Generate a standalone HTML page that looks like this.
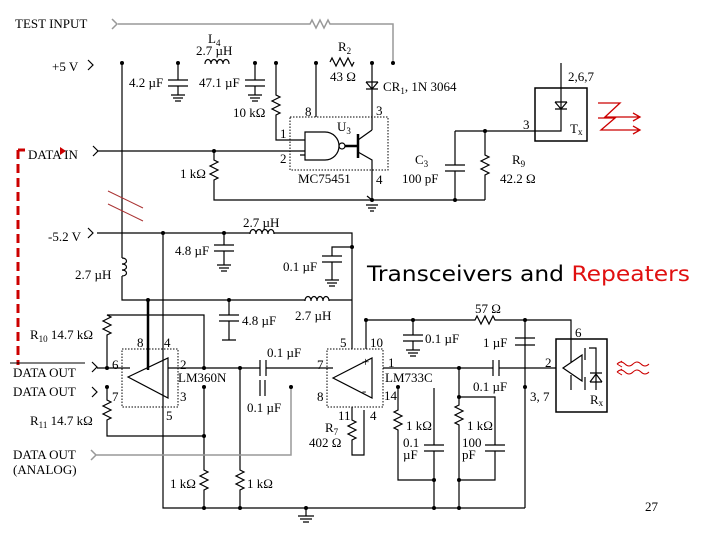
<!DOCTYPE html>
<html><head><meta charset="utf-8"><style>
html,body{margin:0;padding:0;background:#fff;}
svg{display:block;}
text{font-family:"Liberation Serif",serif;font-size:13px;fill:#000;}
.t{font-family:"DejaVu Sans","Liberation Sans",sans-serif;font-size:21px;}
</style></head><body>
<svg width="720" height="540" viewBox="0 0 720 540" xmlns="http://www.w3.org/2000/svg">
<g fill="none" stroke="#000" stroke-width="1.2">
<path d="M112,19 l5,5 l-5,5 M118,24 H310 l2,-4 l4,8 l4,-8 l4,8 l4,-8 l2,4 H393 V63" stroke="#999" stroke-width="1.5"/>
<path d="M88,60 l5,5 l-5,5"/>
<path d="M122,63 V258 M122,258 c6,0 6,6 0,6 c6,0 6,6 0,6 c6,0 6,6 0,6 M122,276 V300 H305"/>
<path d="M178,63 V80 M168,80 H188 M168,86 H188 M178,86 V95 M171,95 H185 M173,98 H183 M175,101 H181"/>
<path d="M255,63 V80 M245,80 H265 M245,86 H265 M255,86 V95 M248,95 H262 M250,98 H260 M252,101 H258"/>
<path d="M205,64 c0,-6 6,-6 6,0 c0,-6 6,-6 6,0 c0,-6 6,-6 6,0 c0,-6 6,-6 6,0"/>
<path d="M276,63 V95 l4,2 l-8,4 l8,4 l-8,4 l8,4 l-4,2 V140 H305"/>
<path d="M316,63 V117"/>
<path d="M330,62 l2,-4 l4,8 l4,-8 l4,8 l4,-8 l4,8 l2,-4"/>
<path d="M372,63 V130 M366,82 H378 M366,82 l6,7 l6,-7 M366,89 H378"/>
<rect x="290" y="117" width="98" height="53" stroke-dasharray="1.5,1.5" stroke-width="1"/>
<path d="M305,132 H325 a14,14 0 0 1 0,28 H305 Z"/>
<circle cx="342" cy="146" r="3"/>
<path d="M345,146 H358 M358,134 V158" stroke-width="2.5"/>
<path d="M358,140 L372,130 M358,152 L372,160 V200 M372,200 L367,196 M366,205 H378 M368,208 H376 M370,211 H374"/>
<path d="M93,146 l5,5 l-5,5 M97,151 H305 M305,155 H300"/>
<path d="M214,151 V160 l4,2 l-8,4 l8,4 l-8,4 l8,4 l-4,2 V200 H485"/>
<path d="M455,131 V165 M445,165 H465 M445,171 H465 M455,171 V200"/>
<path d="M485,131 V155 l4,2 l-8,4 l8,4 l-8,4 l8,4 l-4,2 V200"/>
<path d="M455,131 H561 V63"/>
<rect x="535" y="88" width="52" height="53" stroke-width="1.5"/>
<path d="M555,102 H567 M555,102 l6,7 l6,-7 M555,109 H567"/>
<path d="M88,228 l5,5 l-5,5 M97,233 H250 M250,234 c0,-6 6,-6 6,0 c0,-6 6,-6 6,0 c0,-6 6,-6 6,0 c0,-6 6,-6 6,0 M274,233 H352 V349"/>
<path d="M163,233 V508 H525"/>
<path d="M224,233 V245 M214,245 H234 M214,251 H234 M224,251 V265 M217,265 H231 M219,268 H229 M221,271 H227"/>
<path d="M352,247 H332 V256 M322,256 H342 M322,262 H342 M332,262 V280 M325,280 H339 M327,283 H337 M329,286 H335"/>
<path d="M305,301 c0,-6 6,-6 6,0 c0,-6 6,-6 6,0 c0,-6 6,-6 6,0 c0,-6 6,-6 6,0 M329,300 H352"/>
<path d="M229,300 V315 M219,315 H239 M219,321 H239 M229,321 V340 M222,340 H236"/>
<path d="M148,300 V370" stroke-width="2.5"/>
<path d="M107,368 V335 l4,-2 l-8,-4 l8,-4 l-8,-4 l8,-4 l-4,-2 V315 H204 V368"/>
<rect x="122" y="349" width="56" height="58" stroke-dasharray="1.5,1.5" stroke-width="1"/>
<path d="M128,377 L168,358 V398 Z"/>
<path d="M92,362 l5,5 l-5,5 M97,368 H130 M92,387 l5,5 l-5,5 M107,387 V400 l4,2 l-8,4 l8,4 l-8,4 l8,4 l-4,2 V436 H204"/>
<path d="M168,368 H260 M266,368 H333 M260,360 V376 M266,360 V376"/>
<path d="M260,380 V396 M265,380 V396"/>
<path d="M204,387 V470 l4,2 l-8,4 l8,4 l-8,4 l8,4 l-4,2 V508"/>
<path d="M240,368 V470 l4,2 l-8,4 l8,4 l-8,4 l8,4 l-4,2 V508"/>
<path d="M91,450 l5,5 l-5,5 M96,455 H291 V387" stroke="#999" stroke-width="1.5"/>
<path d="M306,508 V516 M298,516 H314 M300,519 H312 M303,522 H309"/>
<rect x="327" y="349" width="56" height="58" stroke-dasharray="1.5,1.5" stroke-width="1"/>
<path d="M333,378 L372,358 V398 Z"/>
<path d="M352,407 V420 l4,2 l-8,4 l8,4 l-8,4 l8,4 l-4,2 V455 H364 V410"/>
<path d="M366,349 V320 H475 l2,-4 l4,8 l4,-8 l4,8 l4,-8 l2,4 H571 V339"/>
<path d="M413,320 V335 M403,335 H423 M403,341 H423 M413,341 V350 M406,350 H420 M408,353 H418 M410,356 H416"/>
<path d="M525,320 V508 M515,338 H535 M515,345 H535"/>
<path d="M383,368 H493 M499,368 H556 M493,360 V376 M499,360 V376"/>
<path d="M398,387 V410 l-4,2 l8,4 l-8,4 l8,4 l-8,4 l4,2 V480 H434"/>
<path d="M434,388 V445 M424,445 H444 M424,451 H444 M434,451 V508"/>
<path d="M459,368 V405 l-4,2 l8,4 l-8,4 l8,4 l-8,4 l4,2 V480 H495 V451 M485,451 H505 M485,445 H505 M495,445 V397 H459 M459,480 V508"/>
<rect x="556" y="339" width="51" height="73" stroke-width="1.5"/>
<path d="M563,368 L582,355 V381 Z M571,339 V362 M571,375 V390 M585,348 V360 M585,377 V390 M589,348 H596 V390 M590,382 H602 M590,382 l6,-8 l6,8 M590,373 H602"/>
</g>
<g fill="#000">
<circle cx="122" cy="63" r="2"/><circle cx="178" cy="63" r="2"/><circle cx="255" cy="63" r="2"/><circle cx="276" cy="63" r="2"/><circle cx="316" cy="63" r="2"/><circle cx="372" cy="63" r="2"/><circle cx="393" cy="63" r="2"/>
<circle cx="214" cy="151" r="2"/><circle cx="372" cy="200" r="2"/><circle cx="455" cy="200" r="2"/><circle cx="485" cy="131" r="2"/>
<circle cx="163" cy="233" r="2"/><circle cx="224" cy="233" r="2"/><circle cx="352" cy="247" r="2"/>
<circle cx="148" cy="300" r="2"/><circle cx="229" cy="300" r="2"/><circle cx="107" cy="368" r="2"/><circle cx="204" cy="368" r="2"/><circle cx="240" cy="368" r="2"/>
<circle cx="107" cy="387" r="2"/><circle cx="204" cy="387" r="2"/><circle cx="204" cy="436" r="2"/><circle cx="291" cy="387" r="2"/>
<circle cx="204" cy="508" r="2"/><circle cx="240" cy="508" r="2"/><circle cx="306" cy="508" r="2"/><circle cx="434" cy="508" r="2"/><circle cx="459" cy="508" r="2"/>
<circle cx="366" cy="320" r="2"/><circle cx="413" cy="320" r="2"/><circle cx="525" cy="320" r="2"/><circle cx="525" cy="387" r="2"/>
<circle cx="459" cy="368" r="2"/><circle cx="459" cy="397" r="2"/><circle cx="398" cy="387" r="2"/><circle cx="434" cy="480" r="2"/><circle cx="459" cy="480" r="2"/>
</g>
<g stroke="#c00" fill="none">
<path d="M18,150 V365 M18,150 H25" stroke-width="3" stroke-dasharray="9,5"/>
<path d="M108,191 L143,208 M108,204 L143,221" stroke="#a33" stroke-width="1"/>
<path d="M598,103 H620 L605,117 H640 M598,118 H615 L601,130 H640 M633,113 L640,117 L633,121 M633,126 L640,130 L633,134" stroke-width="1.3"/>
<path d="M617,364 q4,-4 8,0 t8,0 t8,0 t8,0 M617,372 q4,-4 8,0 t8,0 t8,0 t8,0 M617,364 l5,-3 M617,364 l5,3 M617,372 l5,-3 M617,372 l5,3" stroke-width="1"/>
</g>
<polygon points="60,147 66,151 60,155" fill="#c00"/>
<text x="15" y="28">TEST INPUT</text>
<text x="52" y="71">+5 V</text>
<text x="208" y="43">L<tspan font-size="9" dy="3">4</tspan></text>
<text x="196" y="55">2.7 µH</text>
<text x="129" y="87">4.2 µF</text>
<text x="199" y="87">47.1 µF</text>
<text x="233" y="117">10 kΩ</text>
<text x="338" y="51">R<tspan font-size="9" dy="3">2</tspan></text>
<text x="330" y="81">43 Ω</text>
<text x="383" y="91">CR<tspan font-size="9" dy="3">1</tspan><tspan dy="-3">, 1N 3064</tspan></text>
<text x="305" y="116">8</text><text x="376" y="115">3</text>
<text x="337" y="131">U<tspan font-size="9" dy="3">3</tspan></text>
<text x="280" y="138">1</text><text x="280" y="163">2</text>
<text x="298" y="183">MC75451</text><text x="376" y="184">4</text>
<text x="28" y="159">DATA IN</text>
<text x="180" y="178">1 kΩ</text>
<text x="415" y="164">C<tspan font-size="9" dy="3">3</tspan></text>
<text x="402" y="183">100 pF</text>
<text x="512" y="164">R<tspan font-size="9" dy="3">9</tspan></text>
<text x="500" y="183">42.2 Ω</text>
<text x="523" y="129">3</text>
<text x="568" y="81">2,6,7</text>
<text x="570" y="133">T<tspan font-size="9" dy="2">x</tspan></text>
<text x="48" y="241">-5.2 V</text>
<text x="243" y="227">2.7 µH</text>
<text x="175" y="255">4.8 µF</text>
<text x="283" y="271">0.1 µF</text>
<text x="75" y="279">2.7 µH</text>
<text class="t" x="367" y="281" fill="#1aa88c" textLength="323" lengthAdjust="spacingAndGlyphs">Transceivers and <tspan fill="#e01010">Repeaters</tspan></text>
<text x="242" y="325">4.8 µF</text>
<text x="295" y="320">2.7 µH</text>
<text x="30" y="339">R<tspan font-size="9" dy="3">10</tspan><tspan dy="-3"> 14.7 kΩ</tspan></text>
<text x="137" y="347">8</text><text x="164" y="347">4</text>
<text x="180" y="369">2</text><text x="180" y="401">3</text><text x="166" y="420">5</text>
<text x="112" y="369">6</text><text x="112" y="401">7</text>
<text x="178" y="382">LM360N</text>
<text x="13" y="377">DATA OUT</text>
<line x1="10" y1="363" x2="85" y2="363" stroke="#000"/>
<text x="13" y="396">DATA OUT</text>
<text x="30" y="425">R<tspan font-size="9" dy="3">11</tspan><tspan dy="-3"> 14.7 kΩ</tspan></text>
<text x="13" y="459">DATA OUT</text>
<text x="13" y="474">(ANALOG)</text>
<text x="267" y="357">0.1 µF</text>
<text x="247" y="412">0.1 µF</text>
<text x="170" y="488">1 kΩ</text>
<text x="247" y="488">1 kΩ</text>
<text x="340" y="347">5</text><text x="370" y="347">10</text>
<text x="317" y="369">7</text><text x="317" y="401">8</text>
<text x="338" y="420">11</text><text x="370" y="420">4</text>
<text x="388" y="367">1</text>
<text x="385" y="382">LM733C</text>
<text x="384" y="400">14</text>
<text x="362" y="366" font-size="11">+</text><text x="362" y="395" font-size="11">-</text>
<text x="325" y="432">R<tspan font-size="9" dy="3">7</tspan></text>
<text x="309" y="447">402 Ω</text>
<text x="475" y="313">57 Ω</text>
<text x="425" y="343">0.1 µF</text>
<text x="483" y="347">1 µF</text>
<text x="473" y="391">0.1 µF</text>
<text x="530" y="401">3, 7</text>
<text x="406" y="430">1 kΩ</text><text x="403" y="447">0.1</text><text x="403" y="459">µF</text>
<text x="467" y="430">1 kΩ</text><text x="462" y="447">100</text><text x="462" y="459">pF</text>
<text x="575" y="337">6</text><text x="545" y="367">2</text>
<text x="590" y="404">R<tspan font-size="9" dy="2">x</tspan></text>
<text x="645" y="511">27</text>
</svg>
</body></html>
